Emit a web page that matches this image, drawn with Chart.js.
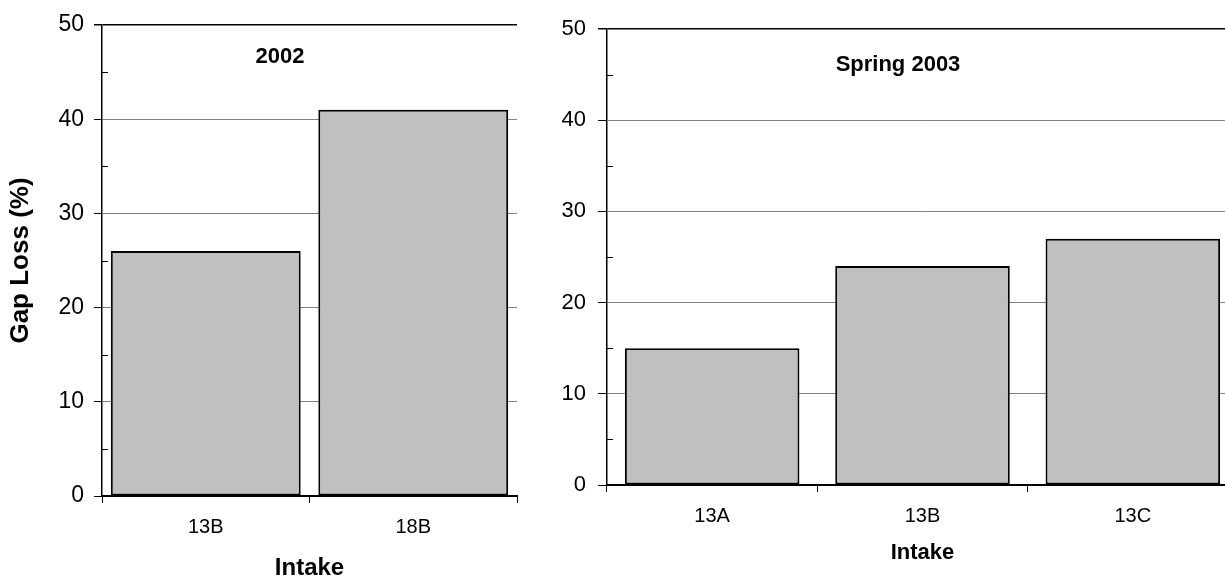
<!DOCTYPE html>
<html>
<head>
<meta charset="utf-8">
<script src="https://cdn.jsdelivr.net/npm/chart.js@4/dist/chart.umd.min.js"></script>
<style>
  body { margin: 0; width: 1225px; height: 578px; overflow: hidden; background: #fff; position: relative; }
  .box { position: absolute; top: 0; height: 578px; }
  .title { position: absolute; font: bold 22px "Liberation Sans", Arial, sans-serif; color: #000; transform: translate(-50%, -50%); white-space: nowrap; }
</style>
</head>
<body>
<div class="box" style="left:0;width:540px"><canvas id="chart2002"></canvas></div>
<div class="box" style="left:540px;width:700px"><canvas id="chart2003"></canvas></div>
<div class="title" style="left:280px;top:56px">2002</div>
<div class="title" style="left:898px;top:64px">Spring 2003</div>
<script>
const intakes2002 = ['13B', '18B'];
const gapLoss2002 = [26, 41];
const intakes2003 = ['13A', '13B', '13C'];
const gapLoss2003 = [15, 24, 27];
const yTicks = [0, 10, 20, 30, 40, 50];

const fontFamily = '"Liberation Sans", Arial, sans-serif';

// little inward ticks at 5, 15, 25...
const minorTicks = {
  id: 'minorTicks',
  afterDraw(chart, args, opts) {
    const y = chart.scales.y, ctx = chart.ctx;
    ctx.save();
    ctx.strokeStyle = '#000';
    ctx.lineWidth = 1;
    y.ticks.forEach(t => {
      if (t.value % 10 !== 0) {
        const py = Math.round(y.getPixelForValue(t.value)) + 0.5;
        ctx.beginPath();
        ctx.moveTo(y.right, py);
        ctx.lineTo(y.right + opts.len, py);
        ctx.stroke();
      }
    });
    ctx.restore();
  }
};

function makeChart(id, labels, values, cfg) {
  const ctx = document.getElementById(id).getContext('2d');
  return new Chart(ctx, {
    type: 'bar',
    data: {
      labels: labels,
      datasets: [{
        data: values,
        backgroundColor: '#c0c0c0',
        borderColor: '#000',
        borderWidth: 2,
        borderSkipped: false,
        barPercentage: cfg.barPct,
        categoryPercentage: 1
      }]
    },
    plugins: [minorTicks],
    options: {
      responsive: true,
      maintainAspectRatio: false,
      animation: false,
      layout: { padding: cfg.padding },
      plugins: {
        legend: { display: false },
        tooltip: { enabled: false },
        minorTicks: { len: 6 }
      },
      scales: {
        x: {
          afterFit: s => { s.height = cfg.xHeight; },
          grid: {
            offset: true,
            color: c => c.index === labels.length ? '#808080' : 'rgba(0,0,0,0)',
            tickColor: '#000',
            tickLength: 7
          },
          border: { color: '#000', width: 2 },
          ticks: { color: '#000', font: { family: fontFamily, size: cfg.xFont }, padding: cfg.xPad },
          title: {
            display: true,
            text: 'Intake',
            color: '#000',
            font: { family: fontFamily, size: cfg.xTitleFont, weight: 'bold', lineHeight: 1 },
            padding: { top: 0, bottom: cfg.xTitlePad }
          }
        },
        y: {
          min: 0,
          max: 50,
          afterFit: s => { s.width = cfg.yWidth; },
          afterBuildTicks: s => {
            const t = [];
            for (let v = 0; v <= 50; v += 5) t.push({ value: v });
            s.ticks = t;
          },
          grid: {
            color: c => {
              const v = c.tick ? c.tick.value : -1;
              if (v === 50) return '#000';
              return yTicks.includes(v) ? '#808080' : 'rgba(0,0,0,0)';
            },
            lineWidth: c => (c.tick && c.tick.value === 50) ? 1.5 : 1,
            tickColor: c => (c.tick && yTicks.includes(c.tick.value)) ? '#000' : 'rgba(0,0,0,0)',
            tickLength: cfg.yTickLen
          },
          border: { color: '#000', width: 1.5 },
          ticks: {
            color: '#000',
            font: { family: fontFamily, size: cfg.yFont },
            padding: cfg.yPad,
            autoSkip: false,
            callback: v => yTicks.includes(v) ? v : ''
          },
          title: {
            display: cfg.yTitle,
            text: 'Gap Loss (%)',
            color: '#000',
            font: { family: fontFamily, size: 26, weight: 'bold', lineHeight: 1 },
            padding: { top: 0, bottom: 0 }
          }
        }
      }
    }
  });
}

makeChart('chart2002', intakes2002, gapLoss2002, {
  padding: { left: 8, top: 25, right: 23, bottom: 0 },
  barPct: 0.915,
  xHeight: 82,
  xFont: 20, xPad: 12,
  xTitleFont: 24, xTitlePad: -2,
  yWidth: 94,
  yFont: 23, yPad: 10, yTickLen: 8,
  yTitle: true
});

makeChart('chart2003', intakes2003, gapLoss2003, {
  padding: { left: 0, top: 29, right: 2, bottom: 0 },
  barPct: 0.83,
  xHeight: 93,
  xFont: 20, xPad: 12,
  xTitleFont: 22, xTitlePad: 14,
  yWidth: 67,
  yFont: 22, yPad: 12, yTickLen: 9,
  yTitle: false
});
</script>
</body>
</html>
